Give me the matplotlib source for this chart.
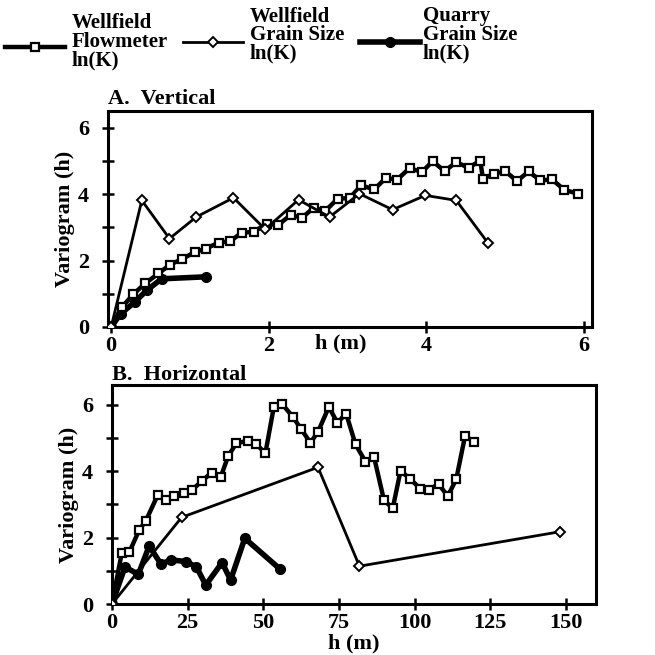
import matplotlib
matplotlib.use("Agg")
import matplotlib.pyplot as plt
from matplotlib.lines import Line2D

plt.rcParams['font.family'] = ['Liberation Serif', 'DejaVu Serif']
plt.rcParams['font.weight'] = 'bold'

# ---- Panel A: Vertical ----
a_flow_h = [0, 0.135, 0.283, 0.431, 0.60, 0.749, 0.897, 1.058, 1.206, 1.362, 1.51, 1.658, 1.806,
            1.975, 2.115, 2.28, 2.42, 2.568, 2.716, 2.872, 3.025, 3.173, 3.338, 3.486, 3.625,
            3.786, 3.942, 4.078, 4.23, 4.378, 4.535, 4.683, 4.716, 4.852, 5.0, 5.148, 5.296,
            5.444, 5.592, 5.749, 5.918]
a_flow_g = [0, 0.59, 0.99, 1.31, 1.61, 1.88, 2.04, 2.25, 2.36, 2.54, 2.58, 2.84, 2.86,
            3.11, 3.06, 3.38, 3.28, 3.59, 3.49, 3.86, 3.88, 4.26, 4.14, 4.49, 4.43,
            4.78, 4.66, 4.99, 4.69, 4.96, 4.79, 5.01, 4.46, 4.61, 4.69, 4.39, 4.68,
            4.41, 4.44, 4.13, 4.01]
a_grain_h = [0, 0.389, 0.74, 1.079, 1.552, 1.954, 2.377, 2.77, 3.15, 3.57, 3.985, 4.378, 4.78]
a_grain_g = [0, 3.81, 2.66, 3.31, 3.89, 2.94, 3.83, 3.31, 4.01, 3.53, 3.96, 3.81, 2.53]
a_quarry_h = [0, 0.12, 0.3, 0.45, 0.64, 1.2]
a_quarry_g = [0, 0.4, 0.75, 1.1, 1.45, 1.51]

# ---- Panel B: Horizontal ----
b_flow_h = [0, 3.2, 5.7, 9.0, 11.2, 15.1, 17.8, 20.6, 23.8, 26.6, 29.8, 32.9, 36.0, 38.4,
            41.1, 44.8, 47.7, 50.7, 53.5, 56.3, 59.8, 62.6, 65.6, 68.1, 71.7, 74.5, 77.4,
            80.5, 83.8, 86.6, 89.9, 92.8, 95.4, 98.6, 101.9, 104.7, 108.0, 111.0, 113.8,
            116.7, 119.8]
b_flow_g = [0, 1.53, 1.56, 2.23, 2.51, 3.28, 3.13, 3.25, 3.36, 3.45, 3.71, 3.96, 3.84, 4.46,
            4.84, 4.92, 4.82, 4.54, 5.94, 6.02, 5.64, 5.26, 4.86, 5.19, 5.94, 5.46, 5.74,
            4.81, 4.29, 4.44, 3.13, 2.88, 4.02, 3.76, 3.48, 3.45, 3.61, 3.25, 3.76,
            5.06, 4.89]
b_grain_h = [0, 23.0, 68.1, 81.8, 148.2]
b_grain_g = [0, 2.61, 4.12, 1.14, 2.18]
b_quarry_h = [0, 4.3, 8.7, 12.3, 16.2, 19.5, 24.4, 27.9, 31.0, 36.4, 39.2, 43.9, 55.7]
b_quarry_g = [0, 1.12, 0.89, 1.75, 1.2, 1.33, 1.28, 1.12, 0.57, 1.25, 0.72, 1.98, 1.04]

legend_labels = ["Wellfield\nFlowmeter\nln(K)", "Wellfield\nGrain Size\nln(K)", "Quarry\nGrain Size\nln(K)"]

W = 655
fig = plt.figure(figsize=(6.55, 6.55), dpi=100)

def fx(px):
    return px / W

def fy(py):
    return 1 - py / W

flow_style = dict(color='black', lw=3.2, marker='s', ms=6, mfc='white', mec='black', mew=1.6, zorder=3)
grain_style = dict(color='black', lw=2.0, marker='D', ms=5, mfc='white', mec='black', mew=1.4, zorder=4)
quarry_style = dict(color='black', lw=4.0, marker='o', ms=7, mfc='black', mec='black', zorder=2)

FS = 16

def style_axes(ax):
    for s in ax.spines.values():
        s.set_linewidth(2.2)
    ax.tick_params(axis='both', direction='inout', length=9, width=1.8, labelsize=FS)
    ax.tick_params(axis='y', pad=9)
    ax.tick_params(axis='x', pad=2)
    for lab in ax.get_xticklabels() + ax.get_yticklabels():
        lab.set_fontweight('bold')

# Panel A
axA = fig.add_axes([fx(108), fy(327), fx(592 - 108), fx(327 - 111)])
axA.plot(a_quarry_h, a_quarry_g, **quarry_style)
axA.plot(a_flow_h, a_flow_g, **flow_style)
axA.plot(a_grain_h, a_grain_g, **grain_style)
axA.set_xlim(-0.04, 6.1)
axA.set_ylim(0, 6.5)
axA.set_xticks([0, 2, 4, 6])
axA.set_yticks([0, 1, 2, 3, 4, 5, 6])
axA.set_yticklabels(['0', '', '2', '', '4', '', '6'])
style_axes(axA)
axA.text(0.48, -0.03, 'h (m)', transform=axA.transAxes, ha='center', va='top', fontsize=FS, fontweight='bold')
axA.set_ylabel('Variogram (h)', fontsize=FS, fontweight='bold', labelpad=2)
axA.text(0.0, 1.01, 'A.  Vertical', transform=axA.transAxes, ha='left', va='bottom', fontsize=FS, fontweight='bold')

# Panel B
axB = fig.add_axes([fx(112), fy(604), fx(596 - 112), fx(604 - 385)])
axB.plot(b_quarry_h, b_quarry_g, **quarry_style)
axB.plot(b_flow_h, b_flow_g, **flow_style)
axB.plot(b_grain_h, b_grain_g, **grain_style)
axB.set_xlim(0, 160)
axB.set_ylim(0, 6.6)
axB.set_xticks([0, 25, 50, 75, 100, 125, 150])
axB.set_yticks([0, 1, 2, 3, 4, 5, 6])
axB.set_yticklabels(['0', '', '2', '', '4', '', '6'])
style_axes(axB)
axB.set_xlabel('h (m)', fontsize=FS, fontweight='bold', labelpad=0)
axB.set_ylabel('Variogram (h)', fontsize=FS, fontweight='bold', labelpad=2)
axB.text(0.0, 1.0, 'B.  Horizontal', transform=axB.transAxes, ha='left', va='bottom', fontsize=FS, fontweight='bold')

# Legend (drawn manually to match layout)
leg_items = [
    (5, 65, 47, 72, 42, flow_style),
    (183, 243, 42, 250, 35, grain_style),
    (360, 420, 42, 423, 35, quarry_style),
]
for (x0, x1, yl, xt, yt, st), lab in zip(leg_items, legend_labels):
    fig.add_artist(Line2D([fx(x0), fx(x1)], [fy(yl), fy(yl)], transform=fig.transFigure,
                          color='black', lw=st['lw']))
    fig.add_artist(Line2D([fx((x0 + x1) / 2)], [fy(yl)], transform=fig.transFigure, lw=0,
                          marker=st['marker'], ms=st['ms'], mfc=st['mfc'], mec=st['mec'],
                          mew=st.get('mew', 1)))
    fig.text(fx(xt), fy(yt), lab, ha='left', va='center', fontsize=15, fontweight='bold', linespacing=0.9)

fig.savefig('out.png', dpi=100)
